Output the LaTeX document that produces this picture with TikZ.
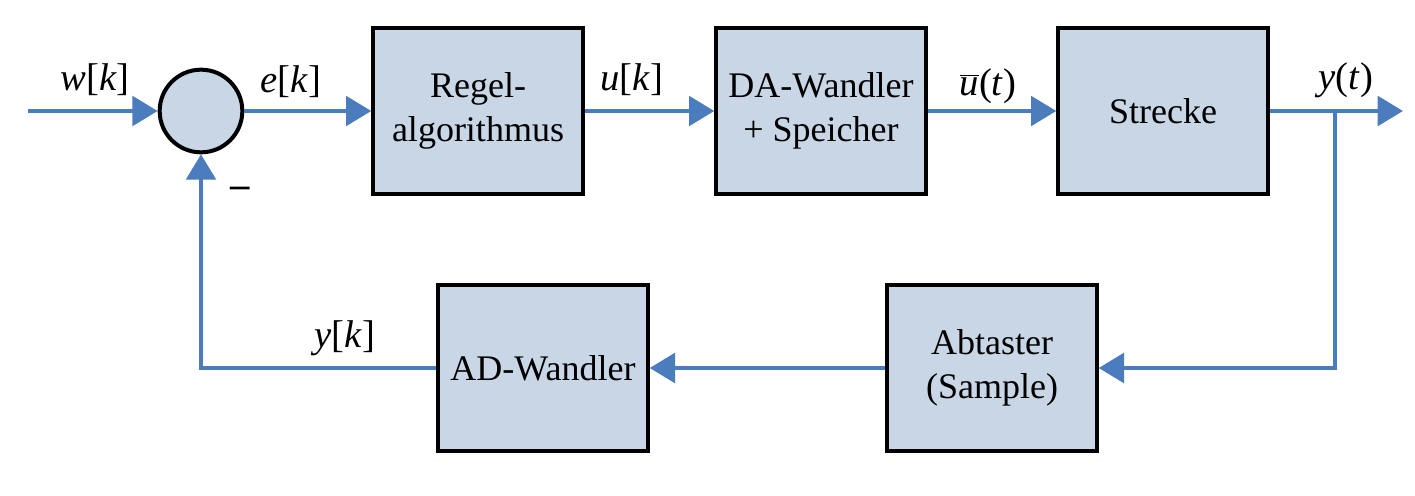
\documentclass[tikz,border=0pt]{standalone}
\usepackage{fontspec}
\setmainfont{Liberation Serif}
\usetikzlibrary{arrows.meta}
\definecolor{sigblue}{RGB}{74,124,190}
\definecolor{boxfill}{RGB}{200,214,230}
\tikzset{
    block/.style={draw=black, fill=boxfill, line width=3pt, minimum width=157pt, minimum height=125pt, align=center, inner sep=2pt, font=\fontsize{27}{33}\selectfont},
    sumnode/.style={circle, draw=black, fill=boxfill, line width=3pt, minimum size=62pt, inner sep=0pt},
    signal/.style={draw=sigblue, line width=3.4pt, -{Triangle[length=19pt 0, width=22pt 0]}},
    lbl/.style={inner sep=0.75pt, font=\fontsize{29}{33}\selectfont}
}
\newcommand{\ubar}{%
    $\overline{\mbox{\textit{u}}}$(\textit{t})
}
\begin{document}
\begin{tikzpicture}[x=0.75pt,y=0.75pt,yscale=-1,xscale=1]
    \useasboundingbox (0,0) rectangle (1415,496);

    % Blocks
    \node [sumnode] (sum) at (201,111) {};
    \node [block] (regler) at (478,111) {Regel-\\algorithmus};
    \node [block] (dawandler) at (821,111) {DA-Wandler\\+ Speicher};
    \node [block] (strecke) at (1163,111) {Strecke};
    \node [block] (abtaster) at (992,368) {Abtaster\\(Sample)};
    \node [block] (adwandler) at (543,368) {AD-Wandler};

    % Free ends
    \coordinate (in) at (28,111);
    \coordinate (out) at (1403,111);
    \coordinate (branch) at (1335,111);

    % Signals
    \draw [signal] (in) -- (sum.west);
    \draw [signal] (sum.east) -- (regler.west);
    \draw [signal] (regler.east) -- (dawandler.west);
    \draw [signal] (dawandler.east) -- (strecke.west);
    \draw [signal] (strecke.east) -- (out);
    \draw [signal] (branch) |- (abtaster.east);
    \draw [signal] (abtaster.west) -- (adwandler.east);
    \draw [signal] (adwandler.west) -| (sum.south);

    % Text Node
    \node [lbl] (wk) at (95,80) {\textit{w}[\textit{k}]};
    % Text Node
    \node [lbl] (ek) at (291,82) {\textit{e}[\textit{k}]};
    % Text Node
    \node [lbl] (uk) at (632,80) {\textit{u}[\textit{k}]};
    % Text Node
    \node [lbl] (ut) at (988,86) {\ubar};
    % Text Node
    \node [lbl] (yt) at (1346,80) {\textit{y}(\textit{t})};
    % Text Node
    \node [lbl] (yk) at (345,338) {\textit{y}[\textit{k}]};
    % Text Node
    \node [lbl] (minus) at (240,192) {\textbf{–}};
\end{tikzpicture}
\end{document}
